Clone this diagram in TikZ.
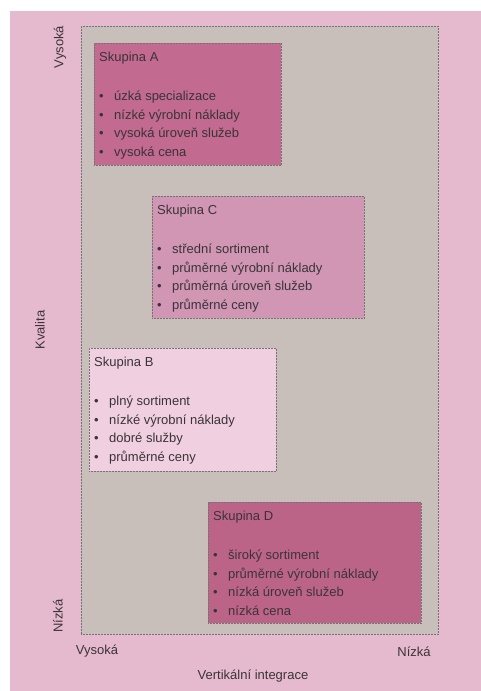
\documentclass[tikz,border=0pt]{standalone}
\usepackage{fontspec}
\setmainfont{Liberation Sans}
\usetikzlibrary{positioning}
\definecolor{BgPink}{RGB}{230,186,206}
\definecolor{FieldGrey}{RGB}{201,191,186}
\definecolor{GrpDark}{RGB}{194,106,143}
\definecolor{GrpDeep}{RGB}{188,100,136}
\definecolor{GrpMid}{RGB}{208,150,180}
\definecolor{GrpLight}{RGB}{240,208,224}
\definecolor{InkGrey}{RGB}{58,52,56}
\tikzset{
  grp/.style={rectangle, draw=InkGrey!70, densely dotted, line width=0.5pt,
    anchor=north west, inner sep=0pt},
  grptxt/.style={anchor=north west, align=left, inner xsep=5pt, inner ysep=8.5pt,
    text=InkGrey, font=\fontsize{13}{18.7}\selectfont},
  axlbl/.style={text=InkGrey, inner sep=0pt, font=\fontsize{13}{15}\selectfont}
}
\newcommand{\itm}[1]{\makebox[15pt][l]{\textbullet}#1}

\begin{document}
\begin{tikzpicture}[x=1pt, y=-1pt]
  \useasboundingbox (0,0) rectangle (481,691);
  \fill[white] (0,0) rectangle (481,691);
  \fill[BgPink] (10,11) rectangle (481,691);
  % field
  \node[grp, fill=FieldGrey, minimum width=357pt, minimum height=608pt] (field) at (81,26) {};
  % groups
  \node[grp, fill=GrpDark, minimum width=187pt, minimum height=122pt] (grpA) at (94,43) {};
  \node[grptxt] (grpAtxt) at (grpA.north west) {Skupina A\\[20.7pt]
    \itm{úzká specializace}\\ \itm{nízké výrobní náklady}\\
    \itm{vysoká úroveň služeb}\\ \itm{vysoká cena}};
  \node[grp, fill=GrpMid, minimum width=212pt, minimum height=122pt] (grpC) at (152,196) {};
  \node[grptxt] (grpCtxt) at (grpC.north west) {Skupina C\\[20.7pt]
    \itm{střední sortiment}\\ \itm{průměrné výrobní náklady}\\
    \itm{průměrná úroveň služeb}\\ \itm{průměrné ceny}};
  \node[grp, fill=GrpLight, minimum width=187pt, minimum height=123pt] (grpB) at (89,348) {};
  \node[grptxt] (grpBtxt) at (grpB.north west) {Skupina B\\[20.7pt]
    \itm{plný sortiment}\\ \itm{nízké výrobní náklady}\\
    \itm{dobré služby}\\ \itm{průměrné ceny}};
  \node[grp, fill=GrpDeep, minimum width=213pt, minimum height=121pt] (grpD) at (208,502) {};
  \node[grptxt] (grpDtxt) at (grpD.north west) {Skupina D\\[20.7pt]
    \itm{široký sortiment}\\ \itm{průměrné výrobní náklady}\\
    \itm{nízká úroveň služeb}\\ \itm{nízká cena}};
  % axes
  \node[axlbl, rotate=90] (qhigh) at (60,47) {Vysoká};
  \node[axlbl, rotate=90] (qlab) at (40,330) {Kvalita};
  \node[axlbl, rotate=90] (qlow) at (58,616) {Nízká};
  \node[axlbl] (vhigh) at (97,651) {Vysoká};
  \node[axlbl] (vlow) at (414,652) {Nízká};
  \node[axlbl] (vlab) at (253,676) {Vertikální integrace};
\end{tikzpicture}
\end{document}
